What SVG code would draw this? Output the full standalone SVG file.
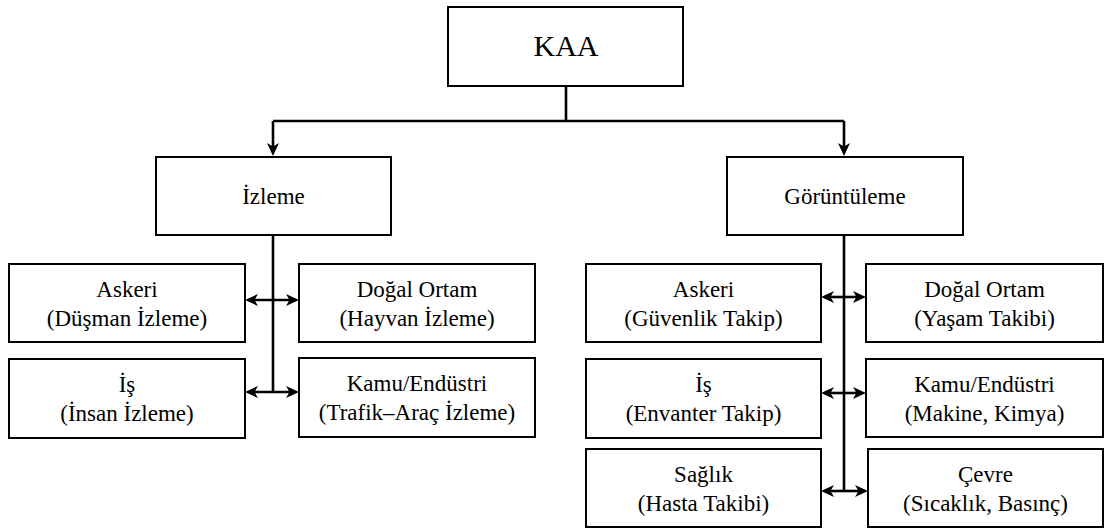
<svg xmlns="http://www.w3.org/2000/svg" width="1105" height="529" viewBox="0 0 1105 529">
  <style>
    .box { fill: #ffffff; stroke: #000000; stroke-width: 2; }
    .lbl { font-family: "Liberation Serif", "Times New Roman", Times, "Nimbus Roman", "FreeSerif", "DejaVu Serif", serif; font-size: 23px; fill: #000000; text-anchor: middle; }
    .big { font-size: 30px; }
    .wire { fill: none; stroke: #000000; stroke-width: 2.6; }
  </style>
  <defs>
    <marker id="head" markerUnits="userSpaceOnUse" markerWidth="14" markerHeight="13" refX="4" refY="6" orient="auto-start-reverse" viewBox="0 0 14 12">
      <path d="M0,0 L13,6 L0,12 L3.5,6 Z" fill="#000000"/>
    </marker>
  </defs>

  <!-- connectors -->
  <g id="connectors" class="wire">
    <path d="M566,86 V121"/>
    <path d="M273,121 H844"/>
    <path d="M273,121 V147" marker-end="url(#head)"/>
    <path d="M844,121 V147" marker-end="url(#head)"/>

    <!-- İzleme branch -->
    <path d="M273,235 V392"/>
    <path d="M254,300 H290" marker-start="url(#head)" marker-end="url(#head)"/>
    <path d="M254,392 H290" marker-start="url(#head)" marker-end="url(#head)"/>

    <!-- Görüntüleme branch -->
    <path d="M830,297 H857" marker-start="url(#head)" marker-end="url(#head)"/>
    <path d="M844,235 V491"/>
    <path d="M830,393 H857" marker-start="url(#head)" marker-end="url(#head)"/>
    <path d="M830,491 H859" marker-start="url(#head)" marker-end="url(#head)"/>
  </g>

  <g id="kaa">
    <rect class="box" x="448" y="7" width="235" height="79"/>
    <text class="lbl big" x="566" y="56">KAA</text>
  </g>

  <g id="izleme">
    <rect class="box" x="156" y="157" width="235" height="78"/>
    <text class="lbl" x="273.5" y="204">İzleme</text>
  </g>

  <g id="goruntuleme">
    <rect class="box" x="727" y="157" width="236" height="78"/>
    <text class="lbl" x="845" y="204">Görüntüleme</text>
  </g>

  <!-- İzleme children -->
  <g id="iz-askeri">
    <rect class="box" x="9" y="264" width="236" height="78"/>
    <text class="lbl" x="127" y="297">Askeri</text>
    <text class="lbl" x="127" y="326">(Düşman İzleme)</text>
  </g>
  <g id="iz-dogal">
    <rect class="box" x="299" y="264" width="236" height="78"/>
    <text class="lbl" x="417" y="297">Doğal Ortam</text>
    <text class="lbl" x="417" y="326">(Hayvan İzleme)</text>
  </g>
  <g id="iz-is">
    <rect class="box" x="9" y="359" width="236" height="79"/>
    <text class="lbl" x="127" y="392">İş</text>
    <text class="lbl" x="127" y="421">(İnsan İzleme)</text>
  </g>
  <g id="iz-kamu">
    <rect class="box" x="299" y="358" width="236" height="79"/>
    <text class="lbl" x="417" y="391">Kamu/Endüstri</text>
    <text class="lbl" x="417" y="420">(Trafik–Araç İzleme)</text>
  </g>

  <!-- Görüntüleme children -->
  <g id="gr-askeri">
    <rect class="box" x="586" y="264" width="235" height="78"/>
    <text class="lbl" x="703.5" y="297">Askeri</text>
    <text class="lbl" x="703.5" y="326">(Güvenlik Takip)</text>
  </g>
  <g id="gr-dogal">
    <rect class="box" x="866" y="264" width="237" height="78"/>
    <text class="lbl" x="984.5" y="297">Doğal Ortam</text>
    <text class="lbl" x="984.5" y="326">(Yaşam Takibi)</text>
  </g>
  <g id="gr-is">
    <rect class="box" x="586" y="359" width="235" height="79"/>
    <text class="lbl" x="703.5" y="392">İş</text>
    <text class="lbl" x="703.5" y="421">(Envanter Takip)</text>
  </g>
  <g id="gr-kamu">
    <rect class="box" x="866" y="359" width="237" height="78"/>
    <text class="lbl" x="984.5" y="392">Kamu/Endüstri</text>
    <text class="lbl" x="984.5" y="421">(Makine, Kimya)</text>
  </g>
  <g id="gr-saglik">
    <rect class="box" x="586" y="449" width="235" height="78"/>
    <text class="lbl" x="703.5" y="482">Sağlık</text>
    <text class="lbl" x="703.5" y="511">(Hasta Takibi)</text>
  </g>
  <g id="gr-cevre">
    <rect class="box" x="868" y="449" width="235" height="78"/>
    <text class="lbl" x="985.5" y="482">Çevre</text>
    <text class="lbl" x="985.5" y="511">(Sıcaklık, Basınç)</text>
  </g>
</svg>
